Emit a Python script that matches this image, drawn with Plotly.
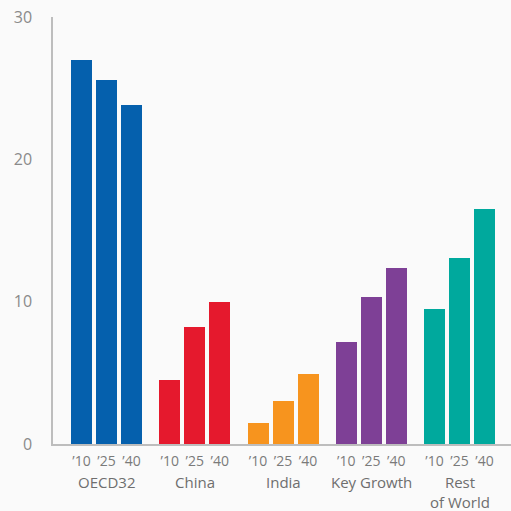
import plotly.graph_objects as go

# Regions and their three snapshot years
regions = ["OECD32", "China", "India", "Key Growth", "Rest<br>of World"]
years = ["’10", "’25", "’40"]

oecd32 = [27.0, 25.6, 23.8]
china = [4.5, 8.2, 10.0]
india = [1.5, 3.0, 4.9]
key_growth = [7.2, 10.3, 12.4]
rest_of_world = [9.5, 13.1, 16.5]

series = [oecd32, china, india, key_growth, rest_of_world]
colors = ["#0560ad", "#e5192d", "#f7941e", "#7e4096", "#00a99d"]

y_ticks = [0, 10, 20, 30]

# Bars within a group sit one unit apart; groups are spaced a bit wider
GROUP_STEP = 3.53
BAR_WIDTH = 0.84

fig = go.Figure()
tick_x, tick_text = [], []
for g, (vals, col) in enumerate(zip(series, colors)):
    xs = [g * GROUP_STEP + j for j in range(len(years))]
    fig.add_trace(go.Bar(
        x=xs, y=vals, width=BAR_WIDTH,
        marker=dict(color=col, line=dict(width=0)),
        showlegend=False, hoverinfo="y",
    ))
    tick_x += xs
    tick_text += years
    fig.add_annotation(
        x=g * GROUP_STEP + 1, y=0, xref="x", yref="paper",
        yanchor="top", yshift=-26, showarrow=False,
        text=regions[g], align="center",
        font=dict(family="Open Sans", size=15, color="#6e6e6e"),
    )

fig.update_layout(
    width=511, height=511,
    margin=dict(l=53, r=0, t=17, b=67),
    paper_bgcolor="#fafafa", plot_bgcolor="#fafafa",
    bargap=0,
    xaxis=dict(
        range=[-1.14, 17.18], tickmode="array",
        tickvals=tick_x, ticktext=tick_text,
        showgrid=False, zeroline=False, showline=True,
        linecolor="#bdbdbd", linewidth=1.5, ticks="",
        tickfont=dict(family="Open Sans", size=14, color="#7a7a7a"),
        ticklabelstandoff=3,
    ),
    yaxis=dict(
        range=[0, 30], tickmode="array", tickvals=y_ticks,
        showgrid=False, zeroline=False, showline=True,
        linecolor="#bdbdbd", linewidth=1.5, ticks="",
        tickfont=dict(family="Open Sans", size=16, color="#8a8a8a"),
        ticklabelstandoff=16,
    ),
)

fig.write_html("out.html")
